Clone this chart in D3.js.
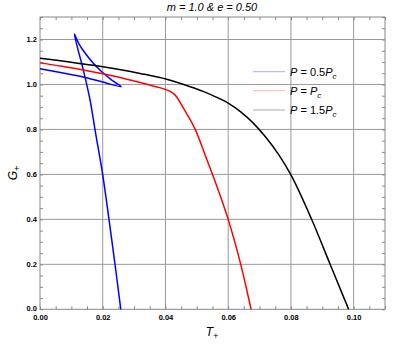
<!DOCTYPE html>
<html>
<head>
<meta charset="utf-8">
<script src="https://cdn.jsdelivr.net/npm/d3@7"></script>
<style>
  body { margin: 0; background: #fff; }
  text { font-family: "Liberation Sans", Arial, sans-serif; }
</style>
</head>
<body>
<div id="div1"></div>
<script>
// values
var blue_T = [0, 0.0106, 0.0138, 0.0200, 0.0259,
              0.02289, 0.01969, 0.01701, 0.01436, 0.01245, 0.01095,
              0.01382, 0.01596, 0.01756, 0.02001, 0.02202, 0.02394, 0.02576];
var blue_G = [1.070, 1.042, 1.033, 1.011, 0.990,
              1.0196, 1.0565, 1.0938, 1.1396, 1.1797, 1.2241,
              1.064, 0.9306, 0.7972, 0.5972, 0.3971, 0.1970, 0.0];

var red_T = [0, 0.007, 0.0138, 0.0230, 0.0319, 0.0370, 0.0399, 0.0418, 0.0428, 0.0438,
             0.0455, 0.0495, 0.0523, 0.0550, 0.0576, 0.0600, 0.0621, 0.0640, 0.0657, 0.0673];
var red_G = [1.096, 1.081, 1.064, 1.039, 1.009, 0.990, 0.978, 0.967, 0.957, 0.940,
             0.900, 0.800, 0.700, 0.600, 0.500, 0.400, 0.300, 0.200, 0.100, 0.0];

var black_T = [0, 0.0170, 0.0319, 0.0404, 0.0479, 0.0520, 0.0560, 0.0600, 0.0640,
               0.0680, 0.0720, 0.0760, 0.0800, 0.0867, 0.0926, 0.0984];
var black_G = [1.117, 1.085, 1.049, 1.023, 0.990, 0.969, 0.945, 0.917, 0.878,
               0.828, 0.765, 0.690, 0.598, 0.397, 0.197, 0.0];

var x_ticks = [0, 0.02, 0.04, 0.06, 0.08, 0.10];
var y_ticks = [0, 0.2, 0.4, 0.6, 0.8, 1.0, 1.2];
var legend_labels = ["0.5", "", "1.5"];
var series_colors = ["#0000ff", "#ff0000", "#000000"];
var legend_colors = ["#a8acff", "#ffb0b0", "#aaaaaa"];

const width = 407, height = 347;
const margin = {top: 17, right: 22, bottom: 37.7, left: 40};

const svg = d3.select("#div1")
  .append("svg")
    .attr("width", width)
    .attr("height", height);

const x = d3.scaleLinear().domain([0, 0.11]).range([margin.left, width - margin.right]);
const y = d3.scaleLinear().domain([0, 1.3]).range([height - margin.bottom, margin.top]);

// grid
svg.append("g")
  .selectAll("line")
  .data(x_ticks.slice(1))
  .join("line")
    .attr("x1", d => x(d)).attr("x2", d => x(d))
    .attr("y1", y(0)).attr("y2", y(1.3))
    .attr("stroke", "#999").attr("stroke-width", 1);
svg.append("g")
  .selectAll("line")
  .data(y_ticks.slice(1))
  .join("line")
    .attr("x1", x(0)).attr("x2", x(0.11))
    .attr("y1", d => y(d)).attr("y2", d => y(d))
    .attr("stroke", "#999").attr("stroke-width", 1);

// minor ticks on all four sides
var x_minor = d3.range(0, 0.1101, 0.005);
var y_minor = d3.range(0, 1.3001, 0.05);
svg.append("g")
  .attr("transform", `translate(0,${y(0)})`)
  .call(d3.axisTop(x).tickValues(x_minor).tickSize(3).tickFormat(""))
  .call(g => g.select(".domain").remove())
  .selectAll("line").attr("stroke", "#888");
svg.append("g")
  .attr("transform", `translate(0,${y(1.3)})`)
  .call(d3.axisBottom(x).tickValues(x_minor).tickSize(3).tickFormat(""))
  .call(g => g.select(".domain").remove())
  .selectAll("line").attr("stroke", "#888");
svg.append("g")
  .attr("transform", `translate(${x(0)},0)`)
  .call(d3.axisRight(y).tickValues(y_minor).tickSize(3).tickFormat(""))
  .call(g => g.select(".domain").remove())
  .selectAll("line").attr("stroke", "#888");
svg.append("g")
  .attr("transform", `translate(${x(0.11)},0)`)
  .call(d3.axisLeft(y).tickValues(y_minor).tickSize(3).tickFormat(""))
  .call(g => g.select(".domain").remove())
  .selectAll("line").attr("stroke", "#888");

// frame
svg.append("rect")
  .attr("x", x(0)).attr("y", y(1.3))
  .attr("width", x(0.11) - x(0)).attr("height", y(0) - y(1.3))
  .attr("fill", "none").attr("stroke", "#888").attr("stroke-width", 1);

// tick labels
svg.append("g")
  .attr("transform", `translate(0,${y(0)})`)
  .call(d3.axisBottom(x).tickValues(x_ticks).tickSize(0).tickPadding(5).tickFormat(d3.format(".2f")))
  .call(g => g.select(".domain").remove())
  .selectAll("text")
    .attr("font-size", 7.5).attr("font-weight", "bold").attr("fill", "#000")
    .style("font-family", "Liberation Sans, Arial, sans-serif");
svg.append("g")
  .attr("transform", `translate(${x(0)},0)`)
  .call(d3.axisLeft(y).tickValues(y_ticks).tickSize(0).tickPadding(3).tickFormat(d3.format(".1f")))
  .call(g => g.select(".domain").remove())
  .selectAll("text")
    .attr("font-size", 7.5).attr("font-weight", "bold").attr("fill", "#000")
    .attr("dy", d => d === 0 ? "0.2em" : "0.32em")
    .style("font-family", "Liberation Sans, Arial, sans-serif");

// curves
const line = d3.line()
  .x(d => x(d[0]))
  .y(d => y(d[1]));

// blue goes back on itself, so keep catmull-rom for it
svg.append("path")
  .attr("d", line.curve(d3.curveCatmullRom.alpha(0.5))(d3.zip(blue_T, blue_G)))
  .attr("fill", "none").attr("stroke", series_colors[0]).attr("stroke-width", 1.5);
svg.append("path")
  .attr("d", line.curve(d3.curveMonotoneX)(d3.zip(red_T, red_G)))
  .attr("fill", "none").attr("stroke", series_colors[1]).attr("stroke-width", 1.5);
svg.append("path")
  .attr("d", line.curve(d3.curveMonotoneX)(d3.zip(black_T, black_G)))
  .attr("fill", "none").attr("stroke", series_colors[2]).attr("stroke-width", 1.5);

// legend
var legend_y = [71.7, 90.7, 110];
var leg = svg.append("g");
legend_labels.forEach(function(lab, i){
  leg.append("line")
    .attr("x1", 253).attr("x2", 285)
    .attr("y1", legend_y[i]).attr("y2", legend_y[i])
    .attr("stroke", legend_colors[i]).attr("stroke-width", 1);
  var t = leg.append("text")
    .attr("x", 290).attr("y", legend_y[i] + 4)
    .attr("font-size", 11).attr("fill", "#000");
  t.append("tspan").attr("font-style", "italic").text("P");
  t.append("tspan").text(" = " + lab);
  t.append("tspan").attr("font-style", "italic").text("P");
  t.append("tspan").attr("font-style", "italic").attr("font-size", 8).attr("dy", 3).text("c");
});

// title and axis names
svg.append("text")
  .attr("x", 212).attr("y", 11)
  .attr("text-anchor", "middle")
  .attr("font-size", 11).attr("font-style", "italic")
  .text("m = 1.0 & e = 0.50");

var xl = svg.append("text")
  .attr("x", 212).attr("y", 336)
  .attr("text-anchor", "middle")
  .attr("font-size", 12).attr("font-style", "italic");
xl.append("tspan").text("T");
xl.append("tspan").attr("font-size", 9).attr("dy", 3).text("+");

var yl = svg.append("text")
  .attr("transform", "translate(17,173) rotate(-90)")
  .attr("text-anchor", "middle")
  .attr("font-size", 12).attr("font-style", "italic");
yl.append("tspan").text("G");
yl.append("tspan").attr("font-size", 9).attr("dy", 3).text("+");
</script>
</body>
</html>
